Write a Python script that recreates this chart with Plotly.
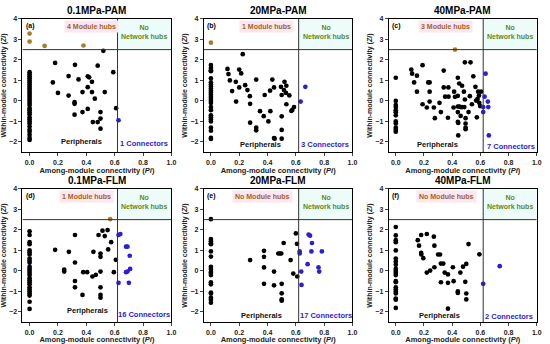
import plotly.graph_objects as go

# ---------------- data ----------------
titles = ["0.1MPa-PAM", "20MPa-PAM", "40MPa-PAM", "0.1MPa-FLM", "20MPa-FLM", "40MPa-FLM"]
panel_tags = ["(a)", "(b)", "(c)", "(d)", "(e)", "(f)"]
hub_labels = ["4 Module hubs", "1 Module hubs", "3 Module hubs", "1 Module hubs", "No Module hubs", "No Module hubs"]
conn_labels = ["1 Connectors", "3 Connectors", "7 Connectors", "16 Connectors", "17 Connectors", "2 Connectors"]
x_ticks = [0.0, 0.2, 0.4, 0.6, 0.8, 1.0]
y_ticks = [-2, -1, 0, 1, 2, 3, 4]

# (a) 0.1MPa-PAM
a_col0_zi = [1.4, 1.3, 1.2, 1.1, 1.0, 0.9, 0.8, 0.7, 0.6, 0.5, 0.4, 0.3, 0.2, 0.1, 0.0, -0.1, -0.2, -0.35,
             -0.45, -0.55, -0.65, -0.8, -0.9, -1.0, -1.1, -1.25, -1.4, -1.5, -1.65, -1.8, -1.9]
a_per_pi = [0.52, 0.18, 0.32, 0.48, 0.59, 0.275, 0.164, 0.345, 0.41, 0.42, 0.44, 0.41, 0.2, 0.275, 0.373,
            0.44, 0.46, 0.53, 0.317, 0.317, 0.373, 0.317, 0.41, 0.61, 0.5, 0.5, 0.446, 0.48, 0.5]
a_per_zi = [2.44, 1.85, 1.76, 1.72, 1.4, 1.21, 0.9, 1.05, 1.2, 1.15, 0.93, 0.67, 0.39, 0.26, 0.43,
            0.43, 0.11, 0.43, -0.06, -0.14, -0.54, -0.67, -0.39, -0.35, -0.54, -0.86, -1.03, -1.03, -1.35]
a_hub_pi = [0.0, 0.0, 0.106, 0.38]
a_hub_zi = [3.28, 2.89, 2.68, 2.7]
a_con_pi = [0.627]
a_con_zi = [-0.94]

# (b) 20MPa-PAM
b_col0_zi = [1.75, 1.6, 1.5, 1.45, 1.1, 0.9, 0.8, 0.7, 0.6, 0.5, 0.4, 0.3, 0.2, 0.1, 0.0, -0.1, -0.3, -0.45,
             -0.7, -0.8, -0.9, -1.0, -1.3, -1.45, -1.8, -1.85]
b_per_pi = [0.225, 0.117, 0.2, 0.124, 0.214, 0.134, 0.176, 0.2, 0.15, 0.242, 0.258, 0.275, 0.178, 0.277,
            0.32, 0.434, 0.418, 0.446, 0.38, 0.347, 0.373, 0.42, 0.406, 0.277, 0.32, 0.32, 0.446, 0.45,
            0.5, 0.5, 0.5, 0.495, 0.5, 0.516, 0.52, 0.533, 0.53, 0.533, 0.554, 0.568, 0.575, 0.587]
b_per_zi = [2.28, 1.56, 1.53, 1.31, 1.34, 1.0, 0.93, 0.66, 0.48, 0.77, 0.53, 0.23, -0.03, -0.14,
            1.04, 1.04, 0.5, 0.66, 0.29, -0.5, -0.74, -0.5, -1.0, -1.06, -1.3, -1.43, -1.81, -1.84,
            -1.84, -1.41, -0.75, 0.69, 0.29, 0.53, 0.93, 0.74, 0.39, -0.16, 0.27, -0.49, -0.44, -0.3]
b_hub_pi = [0.0]
b_hub_zi = [2.84]
b_con_pi = [0.634, 0.667]
b_con_zi = [-0.03, 0.69]

# (c) 40MPa-PAM
c_col0_zi = [1.13, 0.0, -0.2, -0.3, -0.45, -0.55, -0.7, -1.0, -1.1, -1.3, -1.4, -1.5]
c_per_pi = [0.11, 0.116, 0.19, 0.15, 0.13, 0.15, 0.23, 0.24, 0.24, 0.19, 0.22, 0.24, 0.27, 0.277, 0.31,
            0.32, 0.34, 0.34, 0.35, 0.374, 0.373, 0.37, 0.41, 0.414, 0.42, 0.44, 0.45, 0.44, 0.44, 0.45,
            0.46, 0.47, 0.486, 0.44, 0.44, 0.443, 0.46, 0.443, 0.47, 0.483, 0.49, 0.53, 0.49, 0.495,
            0.495, 0.495, 0.495, 0.516, 0.525, 0.54, 0.55, 0.565, 0.57, 0.58, 0.575, 0.584, 0.59,
            0.592, 0.605, 0.598]
c_per_zi = [1.53, 1.33, 1.74, 1.23, 0.9, 0.45, 0.9, 0.9, 0.45, -0.16, -0.32, -0.03, -0.32, -0.84, -0.09,
            -0.54, 1.48, 0.66, 0.21, 0.21, 0.66, -0.82, -0.32, 0.45, 0.2, 1.13, 0.85, 0.25, -0.27, -0.27,
            -0.3, -0.3, -0.3, -0.54, -1.02, -1.07, -0.73, -1.68, 0.74, 0.45, 1.88, 1.88, 0.07, -0.84,
            -1.1, -1.3, -1.38, -0.54, 0.23, -0.16, 1.2, 0.69, 0.02, 0.1, -0.8, 0.45, 0.26,
            -0.09, 0.45, -0.25]
c_hub_pi = [0.42]
c_hub_zi = [2.5]
c_con_pi = [0.637, 0.63, 0.653, 0.62, 0.656, 0.62, 0.66]
c_con_zi = [1.33, 0.21, -0.03, -0.3, -0.3, -0.54, -1.68]

# (d) 0.1MPa-FLM
d_col0_zi = [1.93, 1.75, 1.4, 1.3, 1.0, 0.9, 0.8, 0.6, 0.5, 0.4, 0.2, 0.1, 0.0, -0.1, -0.2, -0.35, -0.45,
             -0.55, -0.65, -0.8, -0.9, -1.0, -1.1, -1.2, -1.5, -1.85]
d_per_pi = [0.18, 0.277, 0.32, 0.32, 0.244, 0.244, 0.32, 0.32, 0.373, 0.378, 0.406, 0.45, 0.443, 0.467,
            0.486, 0.514, 0.53, 0.55, 0.575, 0.554, 0.5, 0.5, 0.5, 0.5, 0.5, 0.5, 0.608, 0.594]
d_per_zi = [1.03, 0.93, 1.75, 0.41, 0.07, -0.03, -0.49, -0.8, -1.17, -0.06, -0.06, 0.93, -0.27, -0.19,
            1.75, 1.96, 1.7, 1.99, 1.4, 1.05, 0.85, 0.69, -0.03, -0.8, -1.17, -1.3, 0.54, -0.06]
d_hub_pi = [0.568]
d_hub_zi = [2.52]
d_con_pi = [0.627, 0.64, 0.68, 0.69, 0.706, 0.69, 0.68, 0.709, 0.627, 0.7]
d_con_zi = [1.75, 1.8, 1.18, 1.18, 0.74, -0.03, -0.06, 0.1, -0.58, -0.58]

# (e) 20MPa-FLM
e_col0_zi = [2.52, 1.55, 1.45, 1.35, 1.3, 0.95, 0.7, 0.2, 0.1, -0.05, -0.1, -0.2, -0.55, -0.65, -1.05,
             -1.1, -1.3, -1.4, -1.55]
e_per_pi = [0.277, 0.375, 0.375, 0.375, 0.375, 0.446, 0.446, 0.476, 0.488, 0.497, 0.514, 0.5, 0.5, 0.5,
            0.5, 0.563, 0.582, 0.6, 0.608, 0.61]
e_per_zi = [0.53, 0.98, 0.69, 0.17, -0.63, -0.03, -0.7, 0.85, 0.85, 0.85, 1.36, -0.63, -1.09, -1.38,
            -1.45, 0.53, -0.13, 1.83, 1.32, -0.27]
e_hub_pi = []
e_hub_zi = []
e_con_pi = [0.627, 0.627, 0.638, 0.64, 0.69, 0.7, 0.714, 0.71, 0.683, 0.784, 0.76, 0.765]
e_con_zi = [0.85, 0.95, -0.03, -0.68, 1.77, 1.72, 1.36, 0.95, 0.33, 0.95, 0.17, -0.03]

# (f) 40MPa-FLM
f_col0_zi = [2.14, 1.73, 1.5, 1.4, 1.0, 0.6, 0.45, 0.3, 0.1, 0.0, -0.1, -0.2, -0.5, -0.55, -0.8, -0.9,
             -1.0, -1.1, -1.35, -1.4, -1.8]
f_per_pi = [0.156, 0.165, 0.18, 0.22, 0.18, 0.181, 0.195, 0.27, 0.274, 0.3, 0.314, 0.274, 0.22, 0.244,
            0.32, 0.32, 0.337, 0.347, 0.37, 0.37, 0.37, 0.405, 0.41, 0.477, 0.44, 0.44, 0.458, 0.5,
            0.493, 0.5, 0.5, 0.516, 0.593]
f_per_zi = [1.5, 1.23, 1.75, 1.8, 0.88, 0.8, 0.62, 1.67, 1.23, 0.8, 0.8, 0.18, -0.08, 0.02,
            -0.55, 0.36, 0.36, -0.08, -0.17, -0.58, -1.84, 0.18, -0.5, 0.21, -1.0, -1.07, -0.08, 0.34,
            -0.53, -1.1, -1.39, 1.31, 0.81]
f_hub_pi = []
f_hub_zi = []
f_con_pi = [0.62, 0.737]
f_con_zi = [-0.63, 0.23]

col0_all = [a_col0_zi, b_col0_zi, c_col0_zi, d_col0_zi, e_col0_zi, f_col0_zi]
per_pi_all = [a_per_pi, b_per_pi, c_per_pi, d_per_pi, e_per_pi, f_per_pi]
per_zi_all = [a_per_zi, b_per_zi, c_per_zi, d_per_zi, e_per_zi, f_per_zi]
hub_pi_all = [a_hub_pi, b_hub_pi, c_hub_pi, d_hub_pi, e_hub_pi, f_hub_pi]
hub_zi_all = [a_hub_zi, b_hub_zi, c_hub_zi, d_hub_zi, e_hub_zi, f_hub_zi]
con_pi_all = [a_con_pi, b_con_pi, c_con_pi, d_con_pi, e_con_pi, f_con_pi]
con_zi_all = [a_con_zi, b_con_zi, c_con_zi, d_con_zi, e_con_zi, f_con_zi]

ZI_THR = 2.5
PI_THR = 0.62

# ---------------- layout geometry ----------------
W, H = 550, 344
x_dom_px = [(22.7, 173.0), (205.7, 355.7), (392.3, 541.7)]
y_dom_px = [(15.0, 150.0), (187.0, 322.0)]

FONT = "Liberation Sans, Arial, sans-serif"
HUB_TXT = "#a0622d"
HUB_MK = "#a67c2e"
GREEN = "#5b8a1e"
BLUE = "#2a1ed6"

fig = go.Figure()
annotations = []
shapes = []

for i in range(6):
    r, c = divmod(i, 3)
    k = "" if i == 0 else str(i + 1)
    xa, ya = "x" + k, "y" + k
    x0p, x1p = x_dom_px[c]
    y0p, y1p = y_dom_px[r]
    xdom = [x0p / W, x1p / W]
    ydom = [1 - y1p / H, 1 - y0p / H]

    fig.update_layout(**{
        "xaxis" + k: dict(domain=xdom, range=[-0.05, 1.0], anchor=ya, tickvals=x_ticks,
                          ticktext=[f"{v:.1f}" for v in x_ticks], ticks="outside", ticklen=3,
                          tickwidth=1, showline=True, linecolor="black", linewidth=1, mirror=True,
                          showgrid=False, zeroline=False,
                          tickfont=dict(family=FONT, size=7, color="#222", weight="bold"),
                          title=dict(text="<b>Among-module connectivity (<i>Pi</i>)</b>",
                                     font=dict(family=FONT, size=7.5, color="#222"), standoff=2)),
        "yaxis" + k: dict(domain=ydom, range=[-2.5, 4.0], anchor=xa, tickvals=y_ticks,
                          ticks="outside", ticklen=3, tickwidth=1, showline=True, linecolor="black",
                          linewidth=1, mirror=True, showgrid=False, zeroline=False,
                          tickfont=dict(family=FONT, size=7, color="#222", weight="bold"),
                          title=dict(text="<b>Within-module connectivity (<i>Zi</i>)</b>",
                                     font=dict(family=FONT, size=7, color="#222"), standoff=1)),
    })

    # light cyan network-hub quadrant
    shapes.append(dict(type="rect", xref=xa, yref=ya, x0=PI_THR, x1=1.0, y0=ZI_THR, y1=4.0,
                       fillcolor="#eefcf9", line=dict(width=0), layer="below"))
    # threshold lines
    shapes.append(dict(type="line", xref=xa, yref=ya, x0=-0.05, x1=1.0, y0=ZI_THR, y1=ZI_THR,
                       line=dict(color="#333", width=1)))
    shapes.append(dict(type="line", xref=xa, yref=ya, x0=PI_THR, x1=PI_THR, y0=-2.5, y1=4.0,
                       line=dict(color="#333", width=1)))

    mk = dict(size=4.7, line=dict(width=0))
    fig.add_trace(go.Scatter(x=[0.0] * len(col0_all[i]), y=col0_all[i], mode="markers",
                             marker=dict(color="black", **mk), xaxis=xa, yaxis=ya, showlegend=False))
    fig.add_trace(go.Scatter(x=per_pi_all[i], y=per_zi_all[i], mode="markers",
                             marker=dict(color="black", **mk), xaxis=xa, yaxis=ya, showlegend=False))
    fig.add_trace(go.Scatter(x=hub_pi_all[i], y=hub_zi_all[i], mode="markers",
                             marker=dict(color=HUB_MK, **mk), xaxis=xa, yaxis=ya, showlegend=False))
    fig.add_trace(go.Scatter(x=con_pi_all[i], y=con_zi_all[i], mode="markers",
                             marker=dict(color=BLUE, **mk), xaxis=xa, yaxis=ya, showlegend=False))

    # title
    annotations.append(dict(text="<b>" + titles[i] + "</b>", xref="paper", yref="paper",
                            x=(xdom[0] + xdom[1]) / 2, y=1 - (y0p - 8) / H, xanchor="center",
                            yanchor="middle", showarrow=False,
                            font=dict(family=FONT, size=10, color="black")))
    # inside labels
    annotations.append(dict(text="<b>" + panel_tags[i] + "</b>", xref=xa, yref=ya, x=-0.04, y=3.63,
                            xanchor="left", yanchor="middle", showarrow=False,
                            font=dict(family=FONT, size=7, color="black")))
    hub_x = [0.434, 0.39, 0.356, 0.4, 0.366, 0.363][i]
    annotations.append(dict(text="<b>" + hub_labels[i] + "</b>", xref=xa, yref=ya, x=hub_x, y=3.63,
                            xanchor="center", yanchor="middle", showarrow=False, bgcolor="#fce6f0",
                            borderpad=2, font=dict(family=FONT, size=7, color=HUB_TXT)))
    annotations.append(dict(text="<b>No<br>Network hubs</b>", xref=xa, yref=ya, x=0.81, y=3.37,
                            xanchor="center", yanchor="middle", showarrow=False,
                            font=dict(family=FONT, size=7, color=GREEN)))
    per_xy = [(0.364, -1.97), (0.35, -2.13), (0.295, -2.14), (0.41, -1.95), (0.36, -2.15), (0.307, -2.15)][i]
    annotations.append(dict(text="<b>Peripherals</b>", xref=xa, yref=ya, x=per_xy[0], y=per_xy[1],
                            xanchor="center", yanchor="middle", showarrow=False,
                            font=dict(family=FONT, size=7.5, color="#111")))
    con_xy = [(0.805, -2.05), (0.807, -2.12), (0.814, -2.2), (0.81, -2.14), (0.81, -2.17), (0.8, -2.22)][i]
    annotations.append(dict(text="<b>" + conn_labels[i] + "</b>", xref=xa, yref=ya, x=con_xy[0],
                            y=con_xy[1], xanchor="center", yanchor="middle", showarrow=False,
                            font=dict(family=FONT, size=7.5, color=BLUE)))

fig.update_layout(width=W, height=H, margin=dict(l=0, r=0, t=0, b=0), paper_bgcolor="white",
                  plot_bgcolor="white", annotations=annotations, shapes=shapes,
                  font=dict(family=FONT))
fig.write_html("out.html", config={"displayModeBar": False},
               post_script="document.body.style.margin='0';document.body.style.padding='0';")
